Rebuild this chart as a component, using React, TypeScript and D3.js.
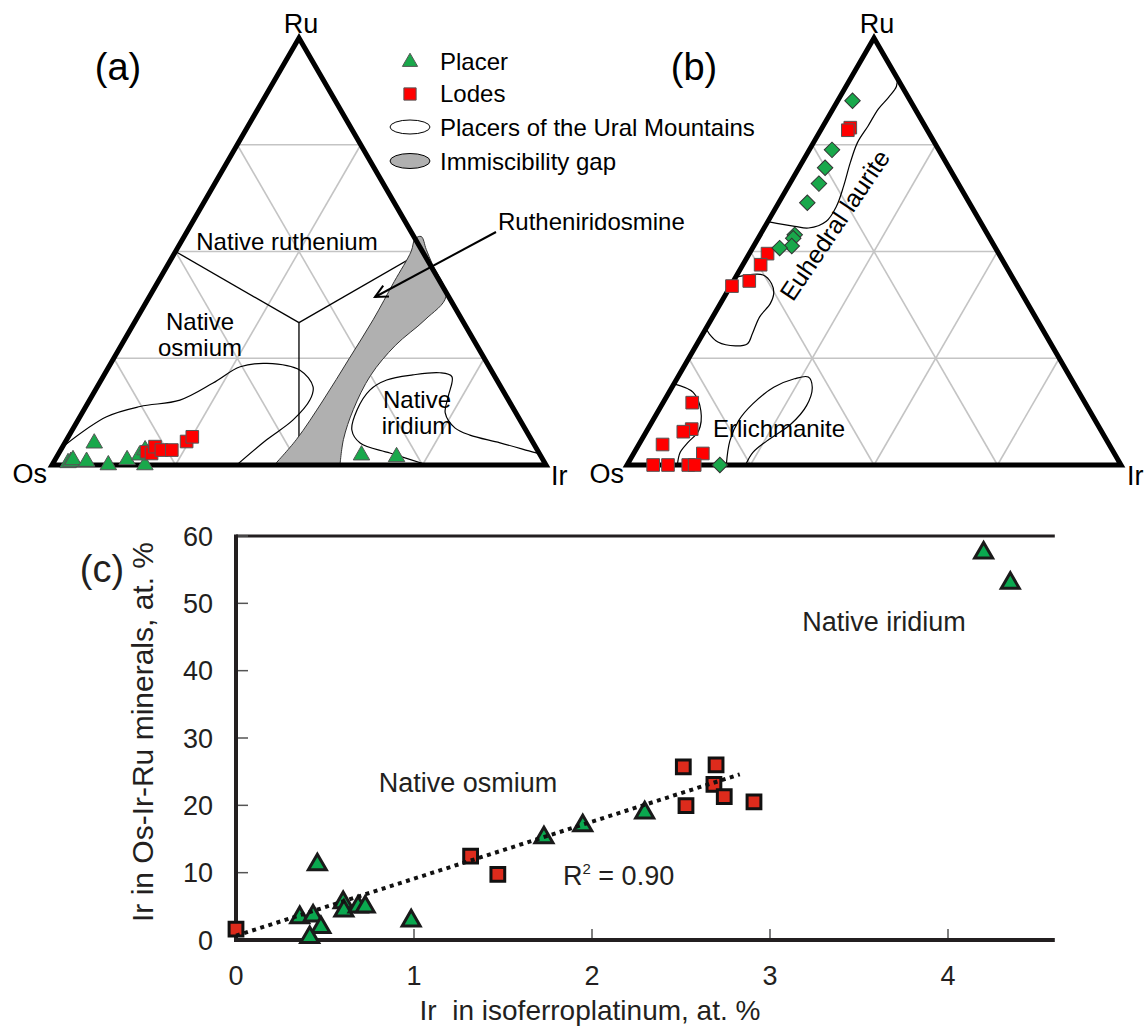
import React from "react";
import * as d3 from "d3";

// Ternary data are [Ru at.%, Ir at.%]; Os = 100 - Ru - Ir
type RI = [number, number];

// ---------- Panel (a) ----------
const placerA: RI[] = [
  [0.5, 3.0], [0.8, 3.4], [1.2, 3.65], [0.8, 6.6], [5.1, 6.0], [0, 11.4],
  [1.2, 14.6], [0, 18.8], [2.3, 16.6], [3.5, 17.1], [2.3, 61.5], [1.9, 68.8],
];
const lodesA: RI[] = [
  [3.1, 17.6], [2.7, 18.8], [4.3, 18.7], [3.5, 20.4], [3.5, 22.5], [5.5, 24.5], [6.6, 25.1],
];
const uralA1: RI[] = [
  [4.7, 0.3], [11.3, 5.4], [13.7, 11.0], [15.2, 18.3], [19.2, 23], [23, 26.6], [23.8, 31.6],
  [22.2, 39.1], [18.3, 43.7], [15.2, 44.6], [10.5, 43.5], [5.9, 40.5], [0, 37.4],
];
const uralA2: RI[] = [
  [0, 76], [2.8, 67], [5.15, 59.8], [8.2, 56.6], [12.9, 55.3], [17.6, 55.6], [19.9, 57.8],
  [21.1, 62.5], [21.6, 67.7], [20.7, 70.6], [16, 72.2], [12.2, 73.5], [8.7, 77.2], [7, 81.1],
  [5.2, 88.1], [3, 95.9], [2.6, 97.4],
];
const gapA: RI[] = [
  [0, 45], [6, 46.5], [15, 47.3], [25, 47.7], [34, 48], [43, 47.8], [50, 47.7], [53, 47],
  [53.5, 48], [50.5, 50.5], [47, 53.5], [39.5, 60], [34, 58.5], [28, 55.5], [21, 54],
  [13, 54.5], [6, 56], [0, 58.3],
];
const fieldCentre: RI = [33.33, 33.33];
const fieldEnds: RI[] = [[50, 0], [50, 50], [0, 50]];

// ---------- Panel (b) ----------
const placerB: RI[] = [
  [85.3, 3.0], [73.8, 4.6], [69.6, 5.3], [65.9, 5.9], [61.4, 5.8], [53.9, 7.0],
  [53.1, 7.1], [51.3, 7.7], [50.8, 5.5], [0, 18.8],
];
const lodesB: RI[] = [
  [79.0, 5.7], [78.4, 5.5], [49.5, 3.7], [46.9, 3.6], [43.1, 3.2], [41.9, 0.3],
  [14.6, 5.9], [8.4, 8.9], [7.8, 7.5], [4.8, 4.8], [2.7, 14.0],
  [0, 5.3], [0, 8.3], [0, 12.4], [0, 13.7],
];
const uralB1: RI[] = [
  [57, 0], [55.9, 6.0], [55.5, 9.0], [57.1, 11.8], [60.6, 12.1], [65.3, 11.2], [70.8, 9.8],
  [75.5, 8.9], [79.4, 9.1], [83.4, 9.2], [86.1, 9.9], [88.7, 10.2], [90.8, 9.2], [91.8, 8.2],
];
const uralB2: RI[] = [
  [44, 0], [44.5, 5.3], [42.5, 8.0], [40.2, 9.6], [37.8, 10.1], [34.7, 9.5], [30.8, 10.0],
  [28.4, 10.2], [27.9, 8.0], [28.8, 4.0], [30.8, 1.2], [32, 0],
];
const uralB3: RI[] = [
  [19, 0], [17, 4.9], [12.7, 8.6], [8, 10.5], [5.3, 9.7], [2.9, 9.3], [0, 10.2],
];
const uralB4: RI[] = [
  [0, 20.1], [5.65, 18], [10.4, 17.4], [14.3, 18.3], [18.2, 20.6], [20.2, 23.8], [20.6, 26.4],
  [18.2, 28.4], [13.9, 29.4], [9.6, 28.4], [5.65, 25.5], [2.9, 24], [0, 24],
];

const gridLevels = [25, 50, 75];

// ---------- Panel (c) ----------
const placerCx = [0.457, 0.358, 0.433, 0.477, 0.414, 0.602, 0.606, 0.686, 0.726, 0.984, 1.73, 1.948, 2.296, 4.2, 4.35];
const placerCy = [11.2, 3.35, 3.6, 1.87, 0.4, 5.57, 4.33, 4.93, 4.93, 2.86, 15.2, 17.0, 18.9, 57.5, 53.0];
const lodeCx = [0, 1.318, 1.471, 2.513, 2.697, 2.685, 2.743, 2.528, 2.91];
const lodeCy = [1.63, 12.46, 9.75, 25.7, 26.0, 23.1, 21.3, 19.95, 20.5];
const trendX = [0, 2.83];
const trendY = [0.64, 24.6];
const xTicks = [0, 1, 2, 3, 4];
const yTicks = [0, 10, 20, 30, 40, 50, 60];
const xMax = 4.6;

const FONT = "'Liberation Sans', Arial, Helvetica, sans-serif";
const GREEN = "#19a84b";
const RED = "#ff0000";

function makeProj(x0: number, yBase: number, w: number, h: number) {
  const sx = d3.scaleLinear().domain([0, 100]).range([x0, x0 + w]);
  const sy = d3.scaleLinear().domain([0, 100]).range([yBase, yBase - h]);
  return (p: RI): [number, number] => [sx(p[1] + p[0] / 2), sy(p[0])];
}

function Ternary(props: {
  proj: (p: RI) => [number, number];
  children?: React.ReactNode;
}) {
  const { proj } = props;
  const grid: [RI, RI][] = [];
  gridLevels.forEach((k) => {
    grid.push([[k, 0], [k, 100 - k]]); // constant Ru
    grid.push([[0, k], [100 - k, k]]); // constant Ir
    grid.push([[0, 100 - k], [100 - k, 0]]); // constant Os
  });
  const corners: RI[] = [[0, 0], [100, 0], [0, 100]];
  const edge = corners.map(proj);
  return (
    <g>
      {grid.map((g, i) => {
        const a = proj(g[0]);
        const b = proj(g[1]);
        return <line key={i} x1={a[0]} y1={a[1]} x2={b[0]} y2={b[1]} stroke="#c4c4c4" strokeWidth={1.6} />;
      })}
      {props.children}
      <polygon
        points={edge.map((p) => p.join(",")).join(" ")}
        fill="none"
        stroke="#000"
        strokeWidth={5}
        strokeLinejoin="miter"
      />
    </g>
  );
}

export default function App() {
  const projA = makeProj(52, 465, 494, 427);
  const projB = makeProj(627, 465, 494, 427);

  const curveA = d3.line<RI>().x((d) => projA(d)[0]).y((d) => projA(d)[1]).curve(d3.curveCatmullRom.alpha(0.5));
  const curveB = d3.line<RI>().x((d) => projB(d)[0]).y((d) => projB(d)[1]).curve(d3.curveCatmullRom.alpha(0.5));

  const triSym = d3.symbol().type(d3.symbolTriangle).size(118)()!;
  const sqSym = d3.symbol().type(d3.symbolSquare).size(160)()!;
  const diaSym = d3.symbol().type(d3.symbolSquare).size(120)()!;
  const triC = d3.symbol().type(d3.symbolTriangle).size(140)()!;
  const sqC = d3.symbol().type(d3.symbolSquare).size(190)()!;
  const triLeg = d3.symbol().type(d3.symbolTriangle).size(100)()!;
  const sqLeg = d3.symbol().type(d3.symbolSquare).size(150)()!;

  // Panel (c) scales
  const xS = d3.scaleLinear().domain([0, xMax]).range([236, 236 + xMax * 178]);
  const yS = d3.scaleLinear().domain([0, 60]).range([940, 536]);

  const centre = projA(fieldCentre);

  // annotation arrow
  const tail = [496, 232];
  const head = [375, 297];
  const ang = Math.atan2(head[1] - tail[1], head[0] - tail[0]);
  const wl = 14;
  const w1 = [head[0] - wl * Math.cos(ang - 0.45), head[1] - wl * Math.sin(ang - 0.45)];
  const w2 = [head[0] - wl * Math.cos(ang + 0.45), head[1] - wl * Math.sin(ang + 0.45)];

  const txt = "#000";
  const ctxt = "#231f20";

  return (
    <svg
      width={1145}
      height={1029}
      viewBox="0 0 1145 1029"
      style={{ position: "absolute", left: 0, top: 0, background: "#fff" }}
      fontFamily={FONT}
    >
      <rect width={1145} height={1029} fill="#fff" />

      {/* ---------------- Panel (a) ---------------- */}
      <Ternary proj={projA}>
        {fieldEnds.map((e, i) => {
          const p = projA(e);
          return <line key={i} x1={centre[0]} y1={centre[1]} x2={p[0]} y2={p[1]} stroke="#000" strokeWidth={1.3} />;
        })}
        <path d={curveA(gapA)! + "Z"} fill="#b0b0b0" stroke="#333" strokeWidth={1} />
        <path d={curveA(uralA1)!} fill="none" stroke="#000" strokeWidth={1.2} />
        <path d={curveA(uralA2)!} fill="none" stroke="#000" strokeWidth={1.2} />
      </Ternary>
      {placerA.map((p, i) => {
        const [x, y] = projA(p);
        return <path key={"pa" + i} d={triSym} transform={`translate(${x},${y})`} fill={GREEN} stroke="#555" strokeWidth={1} />;
      })}
      {lodesA.map((p, i) => {
        const [x, y] = projA(p);
        return <path key={"la" + i} d={sqSym} transform={`translate(${x},${y})`} fill={RED} stroke="#555" strokeWidth={1} />;
      })}

      <text x={301} y={33} fontSize={27} textAnchor="middle" fill={txt}>Ru</text>
      <text x={47} y={483} fontSize={27} textAnchor="end" fill={txt}>Os</text>
      <text x={551} y={485} fontSize={27} textAnchor="start" fill={txt}>Ir</text>
      <text x={118} y={80} fontSize={38} textAnchor="middle" fill={txt}>(a)</text>

      <text x={287} y={250} fontSize={24} textAnchor="middle" fill={txt}>Native ruthenium</text>
      <text x={200} y={330} fontSize={24} textAnchor="middle" fill={txt}>Native</text>
      <text x={200} y={356} fontSize={24} textAnchor="middle" fill={txt}>osmium</text>
      <text x={417} y={408} fontSize={24} textAnchor="middle" fill={txt}>Native</text>
      <text x={417} y={434} fontSize={24} textAnchor="middle" fill={txt}>iridium</text>
      <text x={498} y={230} fontSize={24} textAnchor="start" fill={txt}>Rutheniridosmine</text>
      <line x1={tail[0]} y1={tail[1]} x2={head[0]} y2={head[1]} stroke="#000" strokeWidth={2} />
      <polyline points={`${w1[0]},${w1[1]} ${head[0]},${head[1]} ${w2[0]},${w2[1]}`} fill="none" stroke="#000" strokeWidth={2} />

      {/* legend */}
      <path d={triLeg} transform="translate(410,62)" fill={GREEN} stroke="#555" strokeWidth={1} />
      <text x={440} y={70} fontSize={24} fill={txt}>Placer</text>
      <path d={sqLeg} transform="translate(410,94)" fill={RED} stroke="#555" strokeWidth={1} />
      <text x={440} y={102} fontSize={24} fill={txt}>Lodes</text>
      <ellipse cx={410} cy={127} rx={20} ry={7} fill="#fff" stroke="#000" strokeWidth={1} />
      <text x={440} y={136} fontSize={24} fill={txt}>Placers of the Ural Mountains</text>
      <ellipse cx={410} cy={161} rx={20} ry={7.5} fill="#b0b0b0" stroke="#000" strokeWidth={1} />
      <text x={440} y={170} fontSize={24} fill={txt}>Immiscibility gap</text>

      {/* ---------------- Panel (b) ---------------- */}
      <Ternary proj={projB}>
        <path d={curveB(uralB1)!} fill="none" stroke="#000" strokeWidth={1.2} />
        <path d={curveB(uralB2)!} fill="none" stroke="#000" strokeWidth={1.2} />
        <path d={curveB(uralB3)!} fill="none" stroke="#000" strokeWidth={1.2} />
        <path d={curveB(uralB4)!} fill="none" stroke="#000" strokeWidth={1.2} />
      </Ternary>
      {lodesB.map((p, i) => {
        const [x, y] = projB(p);
        return <path key={"lb" + i} d={sqSym} transform={`translate(${x},${y})`} fill={RED} stroke="#555" strokeWidth={1} />;
      })}
      {placerB.map((p, i) => {
        const [x, y] = projB(p);
        return <path key={"pb" + i} d={diaSym} transform={`translate(${x},${y}) rotate(45)`} fill={GREEN} stroke="#333" strokeWidth={1} />;
      })}
      <text x={877} y={33} fontSize={27} textAnchor="middle" fill={txt}>Ru</text>
      <text x={624} y={483} fontSize={27} textAnchor="end" fill={txt}>Os</text>
      <text x={1127} y={485} fontSize={27} textAnchor="start" fill={txt}>Ir</text>
      <text x={694} y={80} fontSize={38} textAnchor="middle" fill={txt}>(b)</text>
      <text x={713} y={437} fontSize={24} fill={txt}>Erlichmanite</text>
      <text x={0} y={0} fontSize={25} textAnchor="middle" fill={txt} transform="translate(842,230) rotate(-56)">Euhedral laurite</text>

      {/* ---------------- Panel (c) ---------------- */}
      <text x={102} y={582} fontSize={38} textAnchor="middle" fill={ctxt}>(c)</text>
      <line x1={xS(0)} y1={yS(60)} x2={xS(xMax)} y2={yS(60)} stroke="#231f20" strokeWidth={3} />
      {yTicks.map((t) => (
        <g key={"yt" + t}>
          <line x1={xS(0)} y1={yS(t)} x2={xS(0) + 12} y2={yS(t)} stroke="#555" strokeWidth={1.5} />
          <text x={213} y={yS(t) + 9.5} fontSize={27} textAnchor="end" fill={ctxt}>{t}</text>
        </g>
      ))}
      {xTicks.map((t) => (
        <g key={"xt" + t}>
          <line x1={xS(t)} y1={yS(0)} x2={xS(t)} y2={yS(0) - 11} stroke="#555" strokeWidth={1.5} />
          <text x={xS(t)} y={985} fontSize={27} textAnchor="middle" fill={ctxt}>{t}</text>
        </g>
      ))}
      <line x1={xS(0)} y1={yS(0)} x2={xS(xMax)} y2={yS(0)} stroke="#231f20" strokeWidth={4} />
      <line x1={xS(0)} y1={yS(0) + 2} x2={xS(0)} y2={yS(60) - 1.5} stroke="#231f20" strokeWidth={4} />

      {placerCx.map((x, i) => (
        <path key={"pc" + i} d={triC} transform={`translate(${xS(x)},${yS(placerCy[i])})`} fill="#0aa84f" stroke="#1a1a1a" strokeWidth={3} strokeLinejoin="miter" />
      ))}
      {lodeCx.map((x, i) => (
        <path key={"lc" + i} d={sqC} transform={`translate(${xS(x)},${yS(lodeCy[i])})`} fill="#dd2b1c" stroke="#111" strokeWidth={3} />
      ))}
      <line
        x1={xS(trendX[0])}
        y1={yS(trendY[0])}
        x2={xS(trendX[1])}
        y2={yS(trendY[1])}
        stroke="#111"
        strokeWidth={4}
        strokeDasharray="4 4.5"
      />

      <text x={468} y={792} fontSize={27} textAnchor="middle" fill={ctxt}>Native osmium</text>
      <text x={884} y={631} fontSize={27} textAnchor="middle" fill={ctxt}>Native iridium</text>
      <text x={563} y={885} fontSize={27} fill={ctxt}>
        R<tspan fontSize={15} dy={-11}>2</tspan>
        <tspan dy={11}> = 0.90</tspan>
      </text>

      <text x={590} y={1020} fontSize={28} textAnchor="middle" fill={ctxt} xmlSpace="preserve">Ir  in isoferroplatinum, at. %</text>
      <text x={0} y={0} fontSize={30} textAnchor="middle" fill={ctxt} transform="translate(153,732) rotate(-90)">
        Ir in Os-Ir-Ru minerals, at. %
      </text>
    </svg>
  );
}
